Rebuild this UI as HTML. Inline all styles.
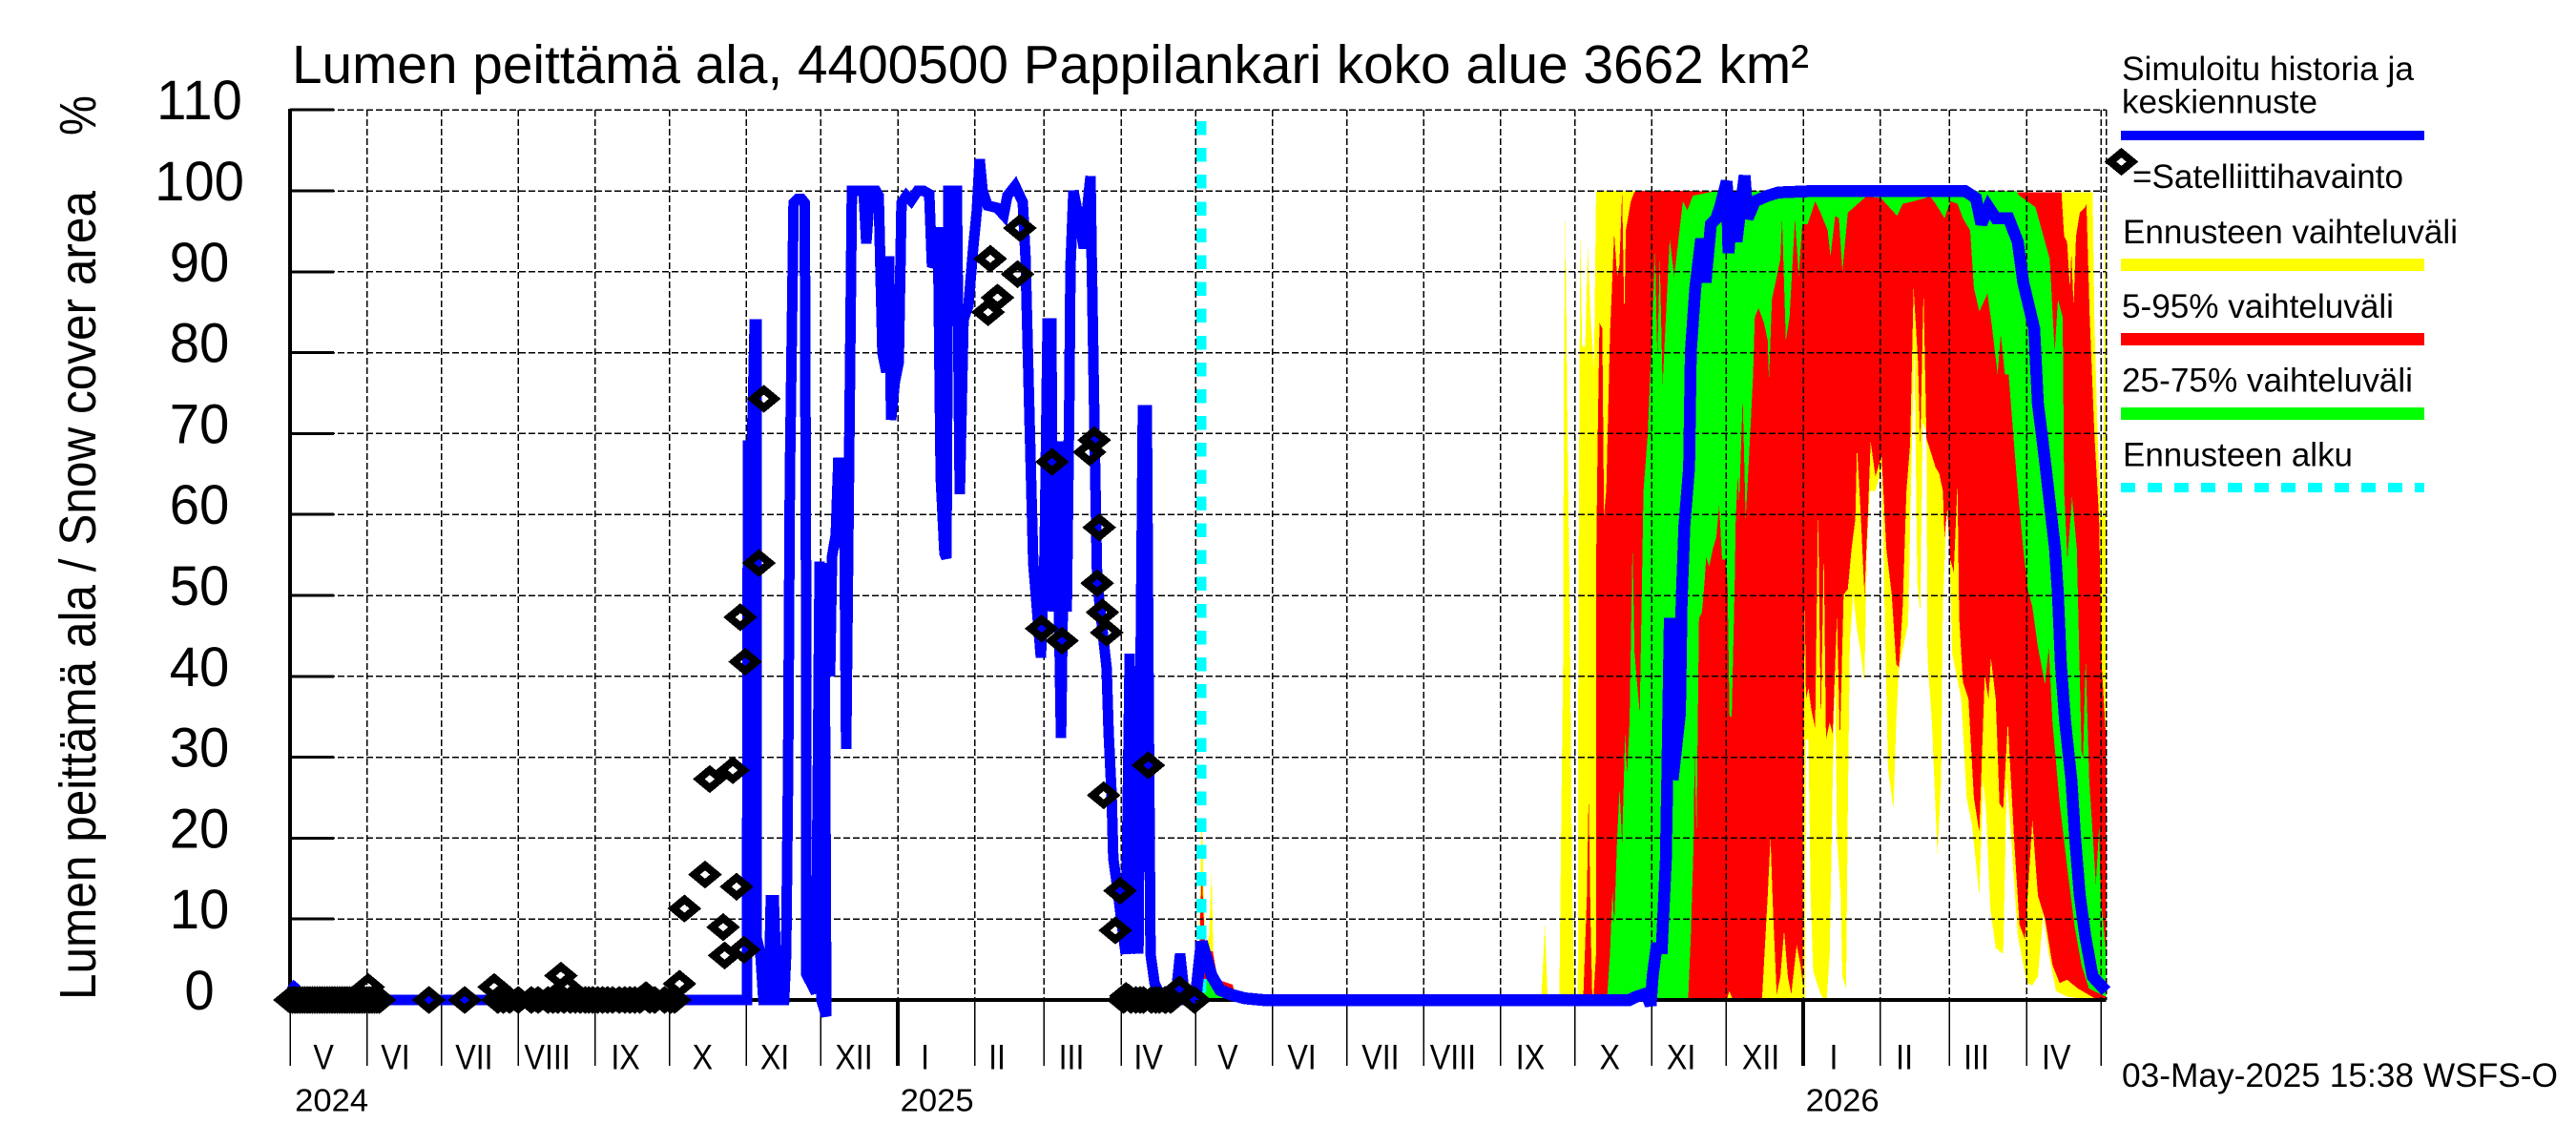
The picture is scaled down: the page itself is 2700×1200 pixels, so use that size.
<!DOCTYPE html>
<html lang="fi">
<head>
<meta charset="utf-8">
<title>Lumen peittämä ala</title>
<style>
html,body{margin:0;padding:0;background:#fff;}
svg{display:block;}
text{font-family:"Liberation Sans",sans-serif;fill:#000;}
</style>
</head>
<body>
<svg id="chart" xmlns="http://www.w3.org/2000/svg" width="2700" height="1200" viewBox="0 0 2700 1200">
  <rect x="0" y="0" width="2700" height="1200" fill="#fff"/>
  <text x="306" y="87" font-size="57" textLength="1590" lengthAdjust="spacingAndGlyphs">Lumen peittämä ala, 4400500 Pappilankari koko alue 3662 km²</text>
  <text transform="translate(100,1048) rotate(-90)" font-size="54" textLength="848" lengthAdjust="spacingAndGlyphs">Lumen peittämä ala / Snow cover area</text>
  <text transform="translate(100,142) rotate(-90)" font-size="54" textLength="42" lengthAdjust="spacingAndGlyphs">%</text>
  <g id="bands" shape-rendering="crispEdges"></g>
  <g id="grid" shape-rendering="crispEdges"></g>
  <g id="axes" shape-rendering="crispEdges"></g>
  <g id="labels"></g>
  <g id="start" shape-rendering="crispEdges"></g>
  <g id="median" shape-rendering="crispEdges"></g>
  <g id="obs" shape-rendering="crispEdges"></g>

  <g>
    <text x="2224" y="84" font-size="35" textLength="306" lengthAdjust="spacingAndGlyphs">Simuloitu historia ja</text>
    <text x="2224" y="118.5" font-size="35" textLength="205" lengthAdjust="spacingAndGlyphs">keskiennuste</text>
    <rect x="2223" y="137" width="318" height="10" fill="#0000ff"/>
    <polygon points="2212,169.5 2223.5,160 2235,169.5 2223.5,179" fill="none" stroke="#000" stroke-width="8" shape-rendering="crispEdges"/>
    <text x="2235" y="197" font-size="35" textLength="284" lengthAdjust="spacingAndGlyphs">=Satelliittihavainto</text>
    <text x="2225" y="255" font-size="35" textLength="351" lengthAdjust="spacingAndGlyphs">Ennusteen vaihteluväli</text>
    <rect x="2223" y="271" width="318" height="13" fill="#ffff00"/>
    <text x="2224" y="333" font-size="35" textLength="285" lengthAdjust="spacingAndGlyphs">5-95% vaihteluväli</text>
    <rect x="2223" y="349" width="318" height="13" fill="#ff0000"/>
    <text x="2224" y="410.5" font-size="35" textLength="305" lengthAdjust="spacingAndGlyphs">25-75% vaihteluväli</text>
    <rect x="2223" y="427" width="318" height="13" fill="#00ff00"/>
    <text x="2225" y="488.5" font-size="35" textLength="241" lengthAdjust="spacingAndGlyphs">Ennusteen alku</text>
    <line x1="2223" y1="511" x2="2541" y2="511" stroke="#00ffff" stroke-width="10" stroke-dasharray="15 13" shape-rendering="crispEdges"/>
  </g>
  <text x="2224" y="1139" font-size="35" textLength="457" lengthAdjust="spacingAndGlyphs">03-May-2025 15:38 WSFS-O</text>
</svg>

<script>
// Axis tick data
const yTickValues = [0,10,20,30,40,50,60,70,80,90,100,110];
const monthStartDays = [0,31,61,92,123,153,184,214,245,276,304,335,365,396,426,457,488,518,549,579,610,641,669,700,730];
const yearTickDays = [245,610];
const monthLabels = ['V','VI','VII','VIII','IX','X','XI','XII','I','II','III','IV','V','VI','VII','VIII','IX','X','XI','XII','I','II','III','IV'];
const monthLabelDays = [13.5,42.5,74.2,103.7,135.2,166.3,195.4,227.3,256,285,315,346,378,407.9,439.6,468.8,500,532,560.8,592.9,622.3,650.8,679.8,712];
const yearLabels = ['2024','2025','2026'];
const yearLabelDays = [2,246,611];
const forecastStartDay = 365;

// Series: days since 2024-05-01, values in percent of area
const maxUpperDays = [366,367.5,369,370.5,371.5,372.3,373.8,380,381.5,383,504.4,505.9,507,511.7,512.5,513.2,513.5,514.1,515,515.9,516.9,517.9,519.1,519.4,520.1,520.9,522.1,523.2,524.3,525.7,526.5,527,726.7,727.4,728.7,730,730.8,731.8,732.1];
const maxUpperValues = [0,23,6,8,16,4,2.5,1.9,0.7,0,0,9.3,0,0,23.6,41.5,77.3,96.9,70.1,48.6,12.9,0,0,48.6,94.8,80.8,80.8,93,84.4,78.3,99.8,100,99.8,84.4,70,59.4,60,99,99];
const minLowerDays = [366,610.7,611,612.1,613,614,615.5,617,618.5,619.5,620.7,621.9,622.9,623.6,625.1,625.8,627.3,628,628.8,630.2,631.7,633.2,634.7,635.7,636.9,639.1,641.6,642.8,644.2,646.4,647.5,648.6,652.3,653.8,654.8,656,657.2,658.2,659.7,660.1,661.9,664.1,665.6,666.3,667.8,669,670,673.7,675.9,678.1,681,682.5,683.7,685.4,687.6,690.6,692.1,693.5,696.5,700.2,702.4,704.6,706.8,709,711.9,716.4,723.7,732.1];
const minLowerValues = [0,0,32.2,32.2,12.9,3.6,2.1,0.7,0,0,5.7,27.2,40.1,20,12.9,2.9,1.4,23.6,44.3,50.1,45.8,42.9,39.3,55.8,62.9,62.9,65.8,48.6,28.6,23.6,34.3,41.1,46.5,68.7,81.5,51.5,47.9,71.5,70.1,42.2,34.3,17.9,27.2,48.6,60.8,55.8,42.9,37.2,25,21.5,12.9,27.2,23.6,11.4,6.4,5.7,27.2,21.5,7.9,2.1,1.8,2.9,10.7,5.7,1.1,0.4,0.1,0];

const p95Days = [366,367.5,369,372,374,380,381,382,521.3,522.8,523.5,524.3,525,525.4,526.5,526.6,527.2,527.9,529,529.7,530.6,532.1,533.8,535,535.9,537,537.9,538.5,540.5,541.9,543,714.1,715.2,716.4,717.5,718.1,719,720,721.5,723.7,724.2,725.5,727.4,729.3,730.3,732.1];
const p95Values = [0,16,6,6,2.5,1.9,0.5,0,0,12.9,25.4,9.3,0,0,5.7,55.8,70.1,83.7,83,60,63,82.3,94.8,89.4,90.8,99.8,84.4,95.1,98.7,99.8,100,99.8,94.4,93.7,88,92.3,85.8,94.4,97.3,98,98.4,84.4,70,59.4,41.5,32.2];
const p05Days = [366,579.2,580.2,581.7,593.4,595.7,596.8,597.9,599.3,600.8,602.3,603.8,605.2,607.4,608.9,609.8,609.9,610.7,611.1,612.1,613.3,614.8,616,617.1,618.3,619.2,620.7,621.9,623.6,624.8,626.3,628,629.5,631,631.7,633.2,634.7,636.1,637.2,639.1,641.6,643.5,645.7,647.5,648.6,650.1,651.6,653.1,654.5,656.3,657.2,658.5,659.7,663.4,664.8,666.3,667,668.1,669.3,670.7,672.2,672.9,674.4,676.6,678.8,681,683.2,684.7,685.7,687.6,689.1,690.6,692.5,695,697.2,699.4,702.4,704.6,707.5,710.5,713.4,716.4,720.8,728.1,732.1];
const p05Values = [0,0,1.1,0,0,12.9,20,10.7,0.7,2.9,8.6,2.9,0.7,6.8,4.3,2.1,25,48.6,37.2,38.6,35.8,33.6,60.8,34.3,55.4,32.2,34.3,32.9,47.6,32.2,50.1,50.8,55.8,59.4,68.3,60.1,50.1,60.1,69,64.7,67.2,55.8,50.1,41.5,41.1,48.6,62.9,68.7,88,78.7,68.7,87.6,69.4,65.8,65.1,62.9,57.2,60.8,54.4,52.9,63.7,47.2,39.3,37.2,25,20.7,40.1,37.2,42.2,37.2,24.3,23.6,34.3,20,9.3,7.5,22.2,12.9,10,4.3,2.1,2.5,1.4,0.1,0];

const p75Days = [368,370,372,374,378,380,530.9,532.1,533.1,533.8,535,536,537,538.2,539,540,541.2,542,544.1,545.6,547.4,548.5,550.3,551.2,552.2,553.3,555.2,556.2,558,559.6,561.5,563.3,565.5,575,695.8,697.2,703.6,709.4,711.4,712.7,714.6,715.2,716.5,718.4,720.3,722.2,722.8,723.9,725.3,728,729.3,729.9,732.1];
const p75Values = [0,3.5,3,2.2,0.8,0,0,5.7,13.6,9.3,20,26.1,19.3,32.9,27.9,34.3,56.2,42.9,35.4,62.9,70.1,78.7,92.3,79.4,91.6,75.8,88,94.1,89.4,93.7,98.7,97.6,99.4,100,100,99.4,98,91.6,80.1,86.6,84.4,63,54.4,62.2,55.8,30.8,30,42.2,27.2,14.3,21.5,12.9,5.7];
const p25Days = [368,563.6,564.7,565.9,566.2,567,567.4,568,569.2,570.2,570.9,572.1,573.6,575,576.1,577.3,578.7,579.5,580.3,581.2,582.4,582.8,583.6,584.2,585.6,586.8,588.3,589.8,590.5,592,594.2,595.7,596.2,597.4,598.9,600.8,601.5,603,604.5,606.7,608.2,609.6,611.8,614.8,617,619.9,621,622.9,624.4,625.8,628,635.4,641.3,647.9,650.1,654.5,661.2,663.4,667,669.3,672.2,674.4,677.3,678.8,681,684.3,686.2,688.4,689.6,691.3,692.8,695,696.5,698.7,700.5,702.4,704.6,707.5,709,710.5,713.4,716.4,719.3,722.2,725.2,732.1];
const p25Values = [0,0,7.9,20,30.8,20.7,30.8,47.2,47.9,51.5,54.7,53.6,55.8,57.2,61.2,54.4,54.4,51.5,35,35,51.5,59.4,64.7,61.5,74.4,59.4,68,77.3,84.4,85.5,83.7,81.5,76.5,86.6,88.7,91.6,96.6,81.5,84.4,96.6,89.4,95.9,95.9,98.7,97.3,95.1,91.9,96.9,96.6,90.1,97.3,99.3,99.1,96.9,98.4,98.7,99.3,98.4,96.6,98.7,98.4,96.6,95.1,88,85.1,87.3,83,77.3,82.3,77.3,77.3,68.7,63,55.8,50.8,48.6,43.6,39,43.6,34.3,24.3,16.5,9.3,4.3,1.4,0.4];

const medianDays = [0,2,5,10,183,184.2,184.6,186.2,187.3,188,188.1,189.6,190.8,193,193.8,195,196.5,199.2,200,200.8,201.5,203,204.6,206.2,207.5,208,208.1,212,213.5,214.2,216.2,215.4,217.7,218.5,220,221,222.3,223.5,224.2,226.5,229.2,231.2,232.3,233.8,236.2,237.3,238.8,240.4,241.5,242.3,243.8,245.4,246.5,248.5,250.4,253,255.4,257.7,258.8,260,261.2,262.3,263.8,264.6,265.4,268.8,270,271.5,273.5,275.4,276.9,278,279.2,281.2,285,287.7,289.2,292.3,295.4,296.5,298.1,299.6,302.7,304.2,305.4,306.9,307.7,308.5,309.6,310,310.8,311.5,312.3,313.1,314.2,314.6,315.8,317.7,320,321.5,322.7,323.1,324.6,325.4,329.2,330,331.2,331.9,333.5,335.4,336.9,338.5,340,340.8,342,342.7,343.8,345.4,346.2,346.9,348.5,350.4,353,356.9,358.8,360.8,363.8,365,367.5,371.5,375,380,385,392,540,542.7,545.6,547.8,548.5,549.3,550.8,553,554.6,555.2,556.2,556.8,557.4,560.3,561,562.1,564,564.7,566.5,568.9,570.6,572.8,575,576.5,579.2,579.9,581.7,583.1,586.4,587.6,590.5,595.7,600,616.3,675.1,679.6,681.8,684.7,687.7,692.8,696.5,698.7,703.1,704.6,706.4,708,711.5,712.7,713.9,715.6,718.1,719.6,721.5,723.7,726.7,732.1];
const medianValues = [2,1.5,0.5,0,0,0,68.5,68.5,83.5,83.5,7.7,5.7,0,0,12.3,12.3,0,0,5.7,29,64.6,98.5,99,99,98.5,52.8,3.2,0.9,54.2,0,-2,54,40,54.8,57.5,66.4,66.4,58,31,100,100,100,93.5,100,100,99.4,80,77.6,91.9,71.7,76.4,78.8,98.5,99.4,98.8,100,100,99.6,90.6,91.2,95.5,64.6,55.2,54.6,100,100,62.5,84.1,85.8,92.9,97.6,103.9,100,98.2,97.9,97,99.4,100.6,98.6,91.7,71.7,54,42.3,55.2,83.6,83.6,48,68.4,68.4,48,32.4,48,69,48,75.5,90.6,100,97,92.9,98.2,101.8,92.9,64.6,51.7,41,33,25.4,17.5,13.9,9.2,5.7,42.8,5.7,31.6,5.7,35,72.9,72.9,34,5.7,2.1,0.9,0,0,5.7,0,0,0,7.2,3,1.2,0.6,0.2,0,0,0.4,0.7,0,-0.7,2.9,6.4,6.4,17.2,27.2,46.5,46.5,27.2,35.4,49.4,58.7,65.8,80.1,88,94.1,88.7,95.9,96.6,98,101.2,92.3,99.8,93.7,101.9,96.6,98.7,99.4,99.8,100,100,99.1,95.9,98,96.6,96.6,93.7,88.7,83,73.7,69.4,65.2,55.8,50.1,41.5,34.3,27.2,20,12.9,7.9,2.9,1.1];

const obsDays = [0,2,5,7,10,12,15,18,20,23,26,28,30,32,34,36,31.5,56,70.4,82.3,83.8,88.5,97.3,100,109.2,111.5,110.4,115,120.4,128,132.7,139,143.5,157,153.5,159,169.2,167.3,178.5,180,174.6,175.2,183,181.5,183.5,191,189,294.2,282.3,293.3,285.2,281.4,307.2,322.3,324.2,326.2,303,311.2,325.4,327.5,329.2,328,334.6,332.7,346,337,338,341,342.7,347.3,350.4,352.7,355,358.5,364.6,1,3,4,6,8,9,11,13,14,16,17,19,21,22,24,25,27,29,31,33,35,104,106,108,113,117,119,122,124,126,130,135,137,141,145,147,151,155,336,339,344,349,353,86,92];
const obsValues = [0,0,0,0,0,0,0,0,0,0,0,0,0,0,0,0,1.6,0,0,1.6,0,0,0,0,3,1.5,0,0,0,0,0,0,0.6,2,0,11.3,27.3,15.5,28.4,14,9,5.5,6.2,47.3,41.8,74.3,54,95.4,91.6,89.7,86.8,85,66.5,67.7,69.2,58.4,45.9,44.4,51.5,47.9,45.4,25.3,13.5,8.6,29,0.5,0.3,0,0,0,0,0,0,1.3,0,0,0,0,0,0,0,0,0,0,0,0,0,0,0,0,0,0,0,0,0,0,0,0,0,0,0,0,0,0,0,0,0,0,0,0,0,0,0,0,0,0,0,0,0,0,0];

// Axis functions
const X0 = 304, PX_PER_DAY = 2.6, Y0 = 1048, PX_PER_UNIT = 8.48;
function xScale(day){ return X0 + day * PX_PER_DAY; }
function yScale(value){ return Y0 - value * PX_PER_UNIT; }
const NS = 'http://www.w3.org/2000/svg';
function make(tag, parentId){
  const el = document.createElementNS(NS, tag);
  document.getElementById(parentId).appendChild(el);
  return el;
}
function bandPoints(upDays, upValues, loDays, loValues){
  const pts = [];
  upDays.forEach((d,i) => pts.push(xScale(d).toFixed(1) + ',' + yScale(upValues[i]).toFixed(1)));
  for (let i = loDays.length - 1; i >= 0; i--) {
    pts.push(xScale(loDays[i]).toFixed(1) + ',' + yScale(loValues[i]).toFixed(1));
  }
  return pts.join(' ');
}

// Bands
const outer = make('polygon','bands');


outer.setAttribute('fill', '#ffff00');
outer.setAttribute('points', bandPoints(maxUpperDays, maxUpperValues, minLowerDays, minLowerValues));
const mid = make('polygon','bands');


mid.setAttribute('fill', '#ff0000');
mid.setAttribute('points', bandPoints(p95Days, p95Values, p05Days, p05Values));
const inner = make('polygon','bands');


inner.setAttribute('fill', '#00ff00');
inner.setAttribute('points', bandPoints(p75Days, p75Values, p25Days, p25Values));

// Grid
const RIGHT = 2207.5;
yTickValues.forEach(v => {
  if (v === 0) return;
  const g = make('line','grid');
  
  
  g.setAttribute('x1', X0);
  g.setAttribute('x2', RIGHT);
  g.setAttribute('y1', yScale(v));
  g.setAttribute('y2', yScale(v));
  g.setAttribute('stroke', '#000');
  g.setAttribute('stroke-width', '1.5');
  g.setAttribute('stroke-dasharray', '7 3');
});
monthStartDays.forEach(d => {
  if (d === 0) return;
  const g = make('line','grid');
  
  
  g.setAttribute('x1', xScale(d));
  g.setAttribute('x2', xScale(d));
  g.setAttribute('y1', yScale(110));
  g.setAttribute('y2', Y0);
  g.setAttribute('stroke', '#000');
  g.setAttribute('stroke-width', '1.5');
  g.setAttribute('stroke-dasharray', '7 3');
});
const frame = make('line','grid');


frame.setAttribute('x1', RIGHT);
frame.setAttribute('x2', RIGHT);
frame.setAttribute('y1', yScale(110));
frame.setAttribute('y2', Y0);
frame.setAttribute('stroke', '#000');
frame.setAttribute('stroke-width', '1.5');
frame.setAttribute('stroke-dasharray', '7 3');

// Axes
const xAxisLine = make('line','axes');


xAxisLine.setAttribute('x1', X0);
xAxisLine.setAttribute('x2', RIGHT);
xAxisLine.setAttribute('y1', Y0);
xAxisLine.setAttribute('y2', Y0);
xAxisLine.setAttribute('stroke', '#000');
xAxisLine.setAttribute('stroke-width', '4');
const yAxisLine = make('line','axes');


yAxisLine.setAttribute('x1', X0);
yAxisLine.setAttribute('x2', X0);
yAxisLine.setAttribute('y1', yScale(110) - 1);
yAxisLine.setAttribute('y2', Y0);
yAxisLine.setAttribute('stroke', '#000');
yAxisLine.setAttribute('stroke-width', '4');
yTickValues.forEach(v => {
  const t = make('line','axes');
  
  
  t.setAttribute('x1', X0);
  t.setAttribute('x2', 350);
  t.setAttribute('y1', yScale(v));
  t.setAttribute('y2', yScale(v));
  t.setAttribute('stroke', '#000');
  t.setAttribute('stroke-width', '3');
  const l = make('text','labels');
  
  
  l.setAttribute('transform', 'translate(209,' + (yScale(v) + 10) + ') scale(0.97,1)');
  l.setAttribute('text-anchor', 'middle');
  l.setAttribute('font-size', '58');
  l.textContent = String(v);
});
monthStartDays.forEach(d => {
  const t = make('line','axes');
  
  
  t.setAttribute('x1', xScale(d));
  t.setAttribute('x2', xScale(d));
  t.setAttribute('y1', Y0);
  t.setAttribute('y2', 1117);
  t.setAttribute('stroke', '#000');
  t.setAttribute('stroke-width', yearTickDays.includes(d) ? '4' : '1.5');
});
monthLabels.forEach((m,i) => {
  const l = make('text','labels');
  
  
  l.setAttribute('transform', 'translate(' + xScale(monthLabelDays[i]) + ',1120.5) scale(0.87,1)');
  l.setAttribute('text-anchor', 'middle');
  l.setAttribute('font-size', '37');
  l.textContent = m;
});
yearLabels.forEach((y,i) => {
  const l = make('text','labels');
  
  
  l.setAttribute('x', xScale(yearLabelDays[i]));
  l.setAttribute('y', '1164.5');
  l.setAttribute('font-size', '33');
  l.setAttribute('textLength', '77');
  l.setAttribute('lengthAdjust', 'spacingAndGlyphs');
  l.textContent = y;
});

// Forecast start marker
const startLine = make('line','start');


startLine.setAttribute('x1', xScale(forecastStartDay) + 6);
startLine.setAttribute('x2', xScale(forecastStartDay) + 6);
startLine.setAttribute('y1', '127');
startLine.setAttribute('y2', Y0);
startLine.setAttribute('stroke', '#00ffff');
startLine.setAttribute('stroke-width', '10.5');
startLine.setAttribute('stroke-dasharray', '14.5 13.6');

// Median line: history up to the forecast start, then the forecast part
function medianSegment(keep){
  const pts = [];
  medianDays.forEach((d,i) => {
    if (keep(d)) pts.push(xScale(d).toFixed(1) + ',' + yScale(medianValues[i]).toFixed(1));
  });
  return pts.join(' ');
}
const medianHistory = make('polyline','median');


medianHistory.setAttribute('fill', 'none');
medianHistory.setAttribute('stroke', '#0000ff');
medianHistory.setAttribute('stroke-width', '11');
medianHistory.setAttribute('stroke-linejoin', 'miter');
medianHistory.setAttribute('stroke-miterlimit', '3');
medianHistory.setAttribute('points', medianSegment(d => d <= forecastStartDay));
const medianForecast = make('polyline','median');


medianForecast.setAttribute('fill', 'none');
medianForecast.setAttribute('stroke', '#0000ff');
medianForecast.setAttribute('stroke-width', '12.5');
medianForecast.setAttribute('stroke-linejoin', 'miter');
medianForecast.setAttribute('stroke-miterlimit', '3');
medianForecast.setAttribute('points', medianSegment(d => d >= forecastStartDay));

// Observations
obsDays.forEach((d,i) => {
  const cx = xScale(d), cy = yScale(obsValues[i]);
  const m = make('polygon','obs');
  
  
  m.setAttribute('fill', 'none');
  m.setAttribute('stroke', '#000');
  m.setAttribute('stroke-width', '8');
  m.setAttribute('points', (cx-11.5) + ',' + cy + ' ' + cx + ',' + (cy-9.5) + ' ' + (cx+11.5) + ',' + cy + ' ' + cx + ',' + (cy+9.5));
});
</script>
</body>
</html>
